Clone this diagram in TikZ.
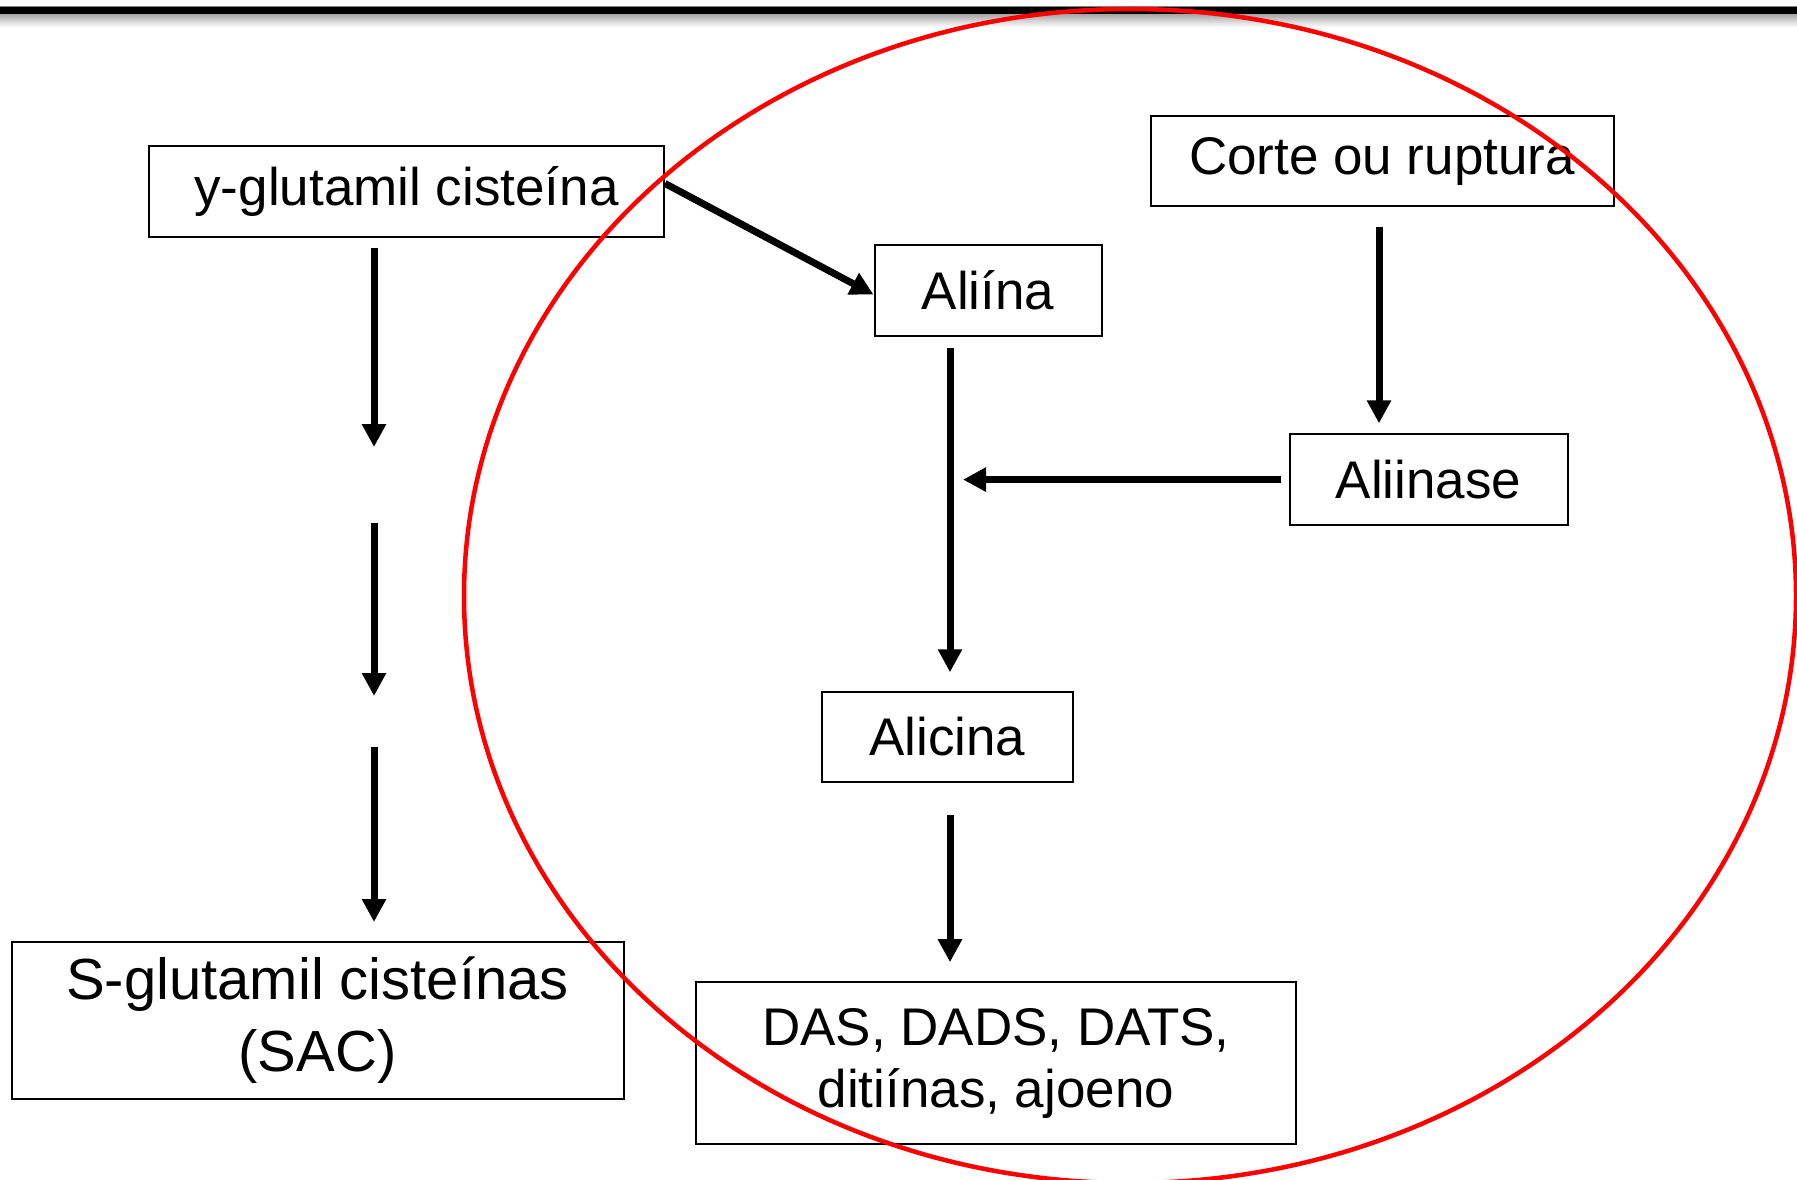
\documentclass[tikz,border=0pt]{standalone}
\usepackage{fontspec}
\setmainfont{Liberation Sans}
\usetikzlibrary{arrows.meta}
\begin{document}
\begin{tikzpicture}[x=1pt,y=-1pt,
  box/.style={draw=black,line width=2pt,inner sep=0pt,align=center,font=\fontsize{53}{62}\selectfont},
  arr/.style={line width=7pt,-{Triangle[length=23pt,width=23pt]}},
  ring/.style={draw=red,line width=4.5pt},
]
\useasboundingbox (0,0) rectangle (1797,1180);
\clip (0,0) rectangle (1797,1180);
% top bar
\shade[top color=gray!70, bottom color=white] (0,14) rectangle (1797,27);
\fill[black] (0,7) rectangle (1797,14);
\draw[gray,line width=1pt] (0,6.5) -- (1797,6.5);

% boxes
\node[box, minimum width=515pt, minimum height=90pt] (ygl) at (406.5,191.5) {\raisebox{-3pt}{y-glutamil cisteína}};
\node[box, minimum width=227pt, minimum height=90.5pt] (ali) at (988,290.5) {Aliína};
\node[box, minimum width=463pt, minimum height=90.5pt] (cor) at (1382,161) {\raisebox{-3pt}{Corte ou ruptura}};
\node[box, minimum width=278pt, minimum height=90.5pt] (ain) at (1428.5,479.6) {Aliinase};
\node[box, minimum width=251pt, minimum height=89.5pt] (alc) at (947.2,737) {Alicina};
\node[box, minimum width=612pt, minimum height=157pt, font=\fontsize{58}{72}\selectfont] (sac) at (317.5,1020.5) {S-glutamil cisteínas\\(SAC)};
\node[box, minimum width=600.5pt, minimum height=161.6pt] (das) at (995.9,1063) {DAS, DADS, DATS,\\ditiínas, ajoeno};

% column coordinates
\coordinate (L) at (374,0);
\coordinate (M) at (950,0);
\coordinate (R) at (1379,0);
\coordinate (l1e) at (374,447);
\coordinate (l2s) at (374,523);
\coordinate (l2e) at (374,696);
\coordinate (l3s) at (374,747);

% arrows
\draw[arr] ([yshift=8pt]ygl.east) -- ([yshift=-4pt]ali.west);
\draw[arr, shorten <=10pt] (ygl.south -| L) -- (l1e);
\draw[arr] (l2s) -- (l2e);
\draw[arr, shorten >=19pt] (l3s) -- (sac.north -| L);
\draw[arr, shorten <=11pt, shorten >=19pt] (ali.south -| M) -- (alc.north -| M);
\draw[arr, shorten <=8pt, shorten >=13pt] (ain.west) -- (ain.west -| M);
\draw[arr, shorten <=20pt, shorten >=10pt] (cor.south -| R) -- (ain.north -| R);
\draw[arr, shorten <=32pt, shorten >=19pt] (alc.south -| M) -- (das.north -| M);

% red ellipse
\draw[ring] (1130,596) ellipse [x radius=666, y radius=587];
\end{tikzpicture}
\end{document}
